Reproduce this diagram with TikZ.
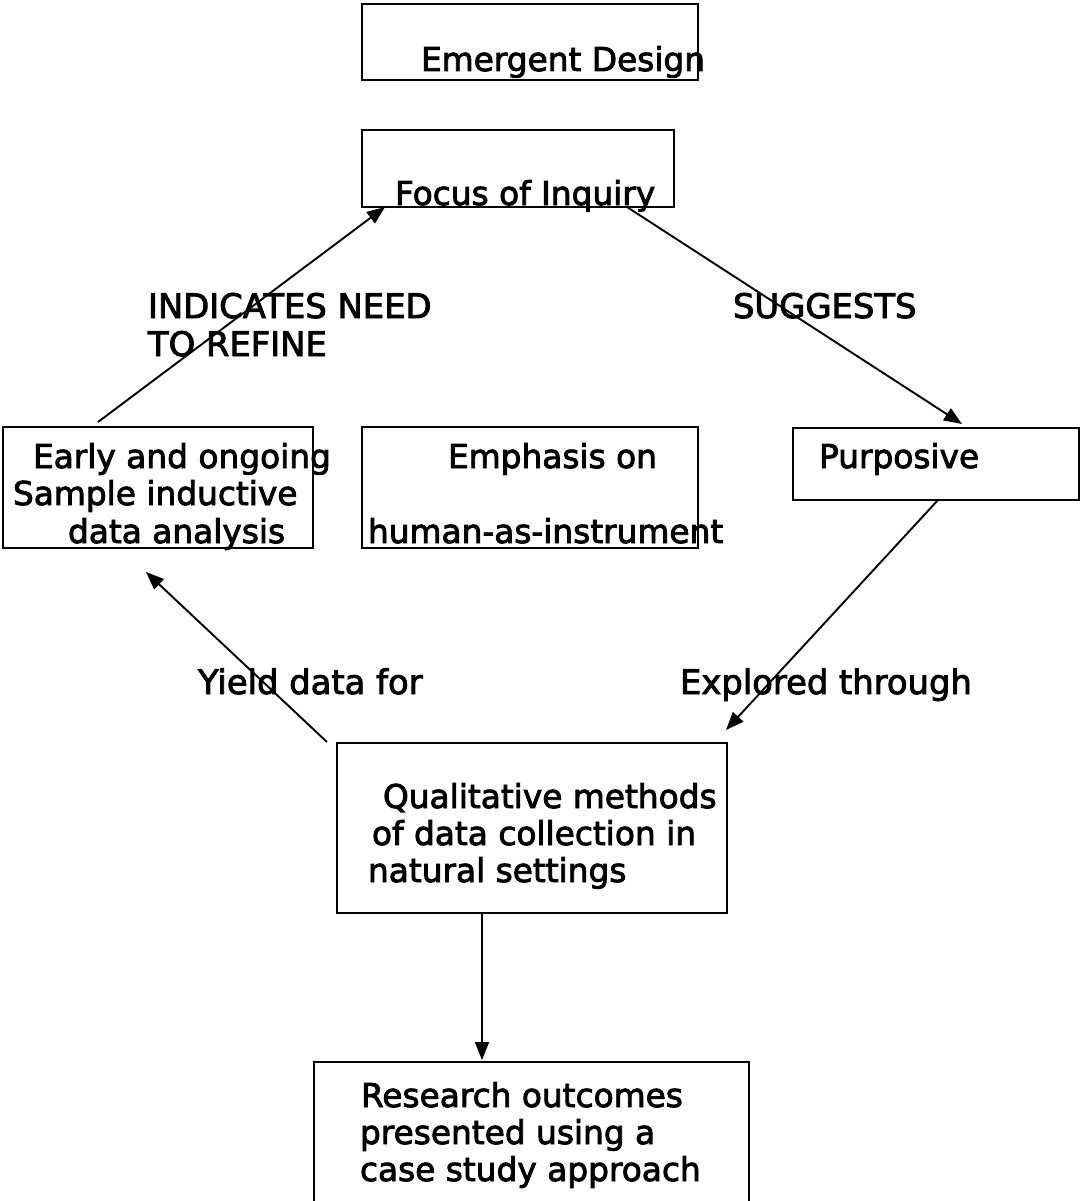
\documentclass[tikz,border=0pt]{standalone}
\usepackage{fontspec}
\setmainfont{DejaVu Sans}
\newfontfamily\heavysans{DejaVu Sans}[FakeBold=2.6]
\usetikzlibrary{arrows.meta}
\begin{document}
\begin{tikzpicture}[x=1pt,y=-1pt,
  box/.style={draw=black,line width=1.9pt,rectangle,inner sep=0pt,outer sep=0pt},
  txt/.style={anchor=base west,inner sep=0pt,outer sep=0pt,font=\heavysans\fontsize{32.8}{37.5}\selectfont},
  lbl/.style={anchor=base west,inner sep=0pt,outer sep=0pt,font=\heavysans\fontsize{33.8}{38}\selectfont},
  link/.style={line width=1.9pt,-{Triangle[length=18pt,width=14pt]}}]
\useasboundingbox (0,0) rectangle (1082,1201);
\clip (0,0) rectangle (1082,1201);

% boxes
\node[box,minimum width=336pt,minimum height=76pt]  (ed)   at (530,42)    {};
\node[box,minimum width=312pt,minimum height=77pt]  (foi)  at (518,168.5) {};
\node[box,minimum width=310pt,minimum height=121pt] (eo)   at (158,487.5) {};
\node[box,minimum width=336pt,minimum height=121pt] (emph) at (530,487.5) {};
\node[box,minimum width=286pt,minimum height=72pt]  (purp) at (936,464)   {};
\node[box,minimum width=390pt,minimum height=170pt] (qual) at (532,828)   {};
\node[box,minimum width=435pt,minimum height=178pt] (res)  at (531.5,1151) {};

% box texts
\node[txt] (ted)  at (421,71)  {Emergent Design};
\node[txt] (tfoi) at (395,205) {Focus of Inquiry};
\node[txt] (teo1) at (33,468)  {Early and ongoing};
\node[txt] (teo2) at (13,505)  {Sample inductive};
\node[txt] (teo3) at (68,543)  {data analysis};
\node[txt] (tem1) at (448,468) {Emphasis on};
\node[txt] (tem2) at (368,543) {human-as-instrument};
\node[txt] (tpu)  at (819,468) {Purposive};
\node[txt] (tq1)  at (383,808) {Qualitative methods};
\node[txt] (tq2)  at (372,845) {of data collection in};
\node[txt] (tq3)  at (368,882) {natural settings};
\node[txt] (tr1)  at (361,1107) {Research outcomes};
\node[txt] (tr2)  at (360,1144) {presented using a};
\node[txt] (tr3)  at (360,1181) {case study approach};

% connector labels
\node[lbl] (lref1) at (148,318) {INDICATES NEED};
\node[lbl] (lref2) at (148,356) {TO REFINE};
\node[lbl] (lsug)  at (733,318) {SUGGESTS};
\node[lbl] (lyld)  at (198,694) {Yield data for};
\node[lbl] (lexp)  at (680,694) {Explored through};

% connector end points
\coordinate (a1s) at ([xshift=95pt,yshift=5pt]eo.north west);
\coordinate (a1e) at ([xshift=23pt]foi.south west);
\coordinate (a2s) at ([xshift=-47pt]foi.south east);
\coordinate (a2e) at ([xshift=169pt,yshift=4pt]purp.north west);
\coordinate (a3s) at ([xshift=-10pt,yshift=1pt]qual.north west);
\coordinate (a3e) at ([xshift=143pt,yshift=-24pt]eo.south west);
\coordinate (a4s) at ([xshift=145pt]purp.south west);
\coordinate (a4e) at ([xshift=-1pt,yshift=13pt]qual.north east);
\coordinate (a5s) at ([xshift=145pt]qual.south west);
\coordinate (a5e) at ([xshift=168pt,yshift=2pt]res.north west);

% connectors
\draw[link] (a1s) -- (a1e);
\draw[link] (a2s) -- (a2e);
\draw[link] (a3s) -- (a3e);
\draw[link] (a4s) -- (a4e);
\draw[link] (a5s) -- (a5e);
\end{tikzpicture}
\end{document}
